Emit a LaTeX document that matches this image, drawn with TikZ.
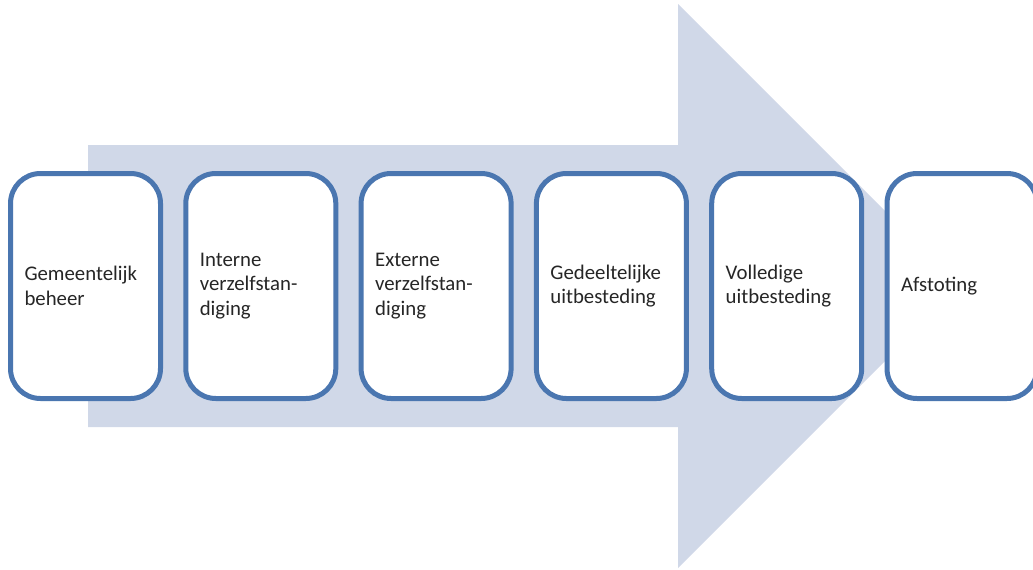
\documentclass[tikz,border=0pt]{standalone}
\usepackage{fontspec}
\setmainfont{Carlito}
\definecolor{phaseblue}{RGB}{74,118,176}
\definecolor{arrowfill}{RGB}{208,216,232}
\tikzset{
  phase/.style={draw=phaseblue, line width=5pt, rounded corners=30pt, fill=white,
    minimum width=150pt, minimum height=225pt, text width=122pt, align=left,
    inner xsep=14pt, font=\fontsize{20.8}{24.5}\selectfont, text=black!85}
}
\begin{document}
\begin{tikzpicture}[x=1pt, y=-1pt]
    \useasboundingbox (0,0) rectangle (1033,570);
    \fill[arrowfill] (88,145) -- (678,145) -- (678,4) -- (960,286) -- (678,568) -- (678,427) -- (88,427) -- cycle;
    \foreach \i/\txt in {1/{Gemeentelijk\\beheer}, 2/{Interne\\verzelfstan-\\diging}, 3/{Externe\\verzelfstan-\\diging}, 4/{Gedeeltelijke\\uitbesteding}, 5/{Volledige\\uitbesteding}, 6/{Afstoting}}{
        \node[phase] (phase\i) at ({85.5+175.3*(\i-1)},286) {\txt};
    }
\end{tikzpicture}
\end{document}
